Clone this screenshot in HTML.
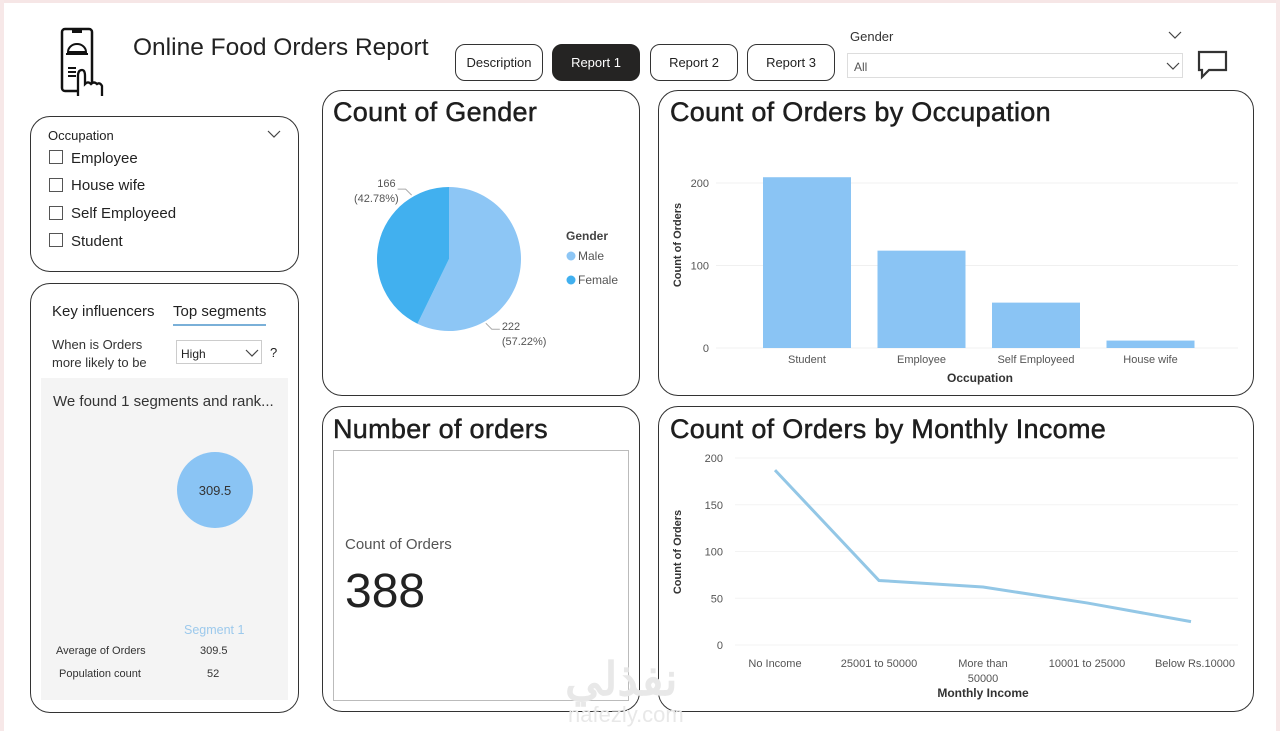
<!DOCTYPE html>
<html><head><meta charset="utf-8"><style>
*{box-sizing:border-box;margin:0;padding:0}
body{width:1280px;height:731px;background:#fff;font-family:"Liberation Sans",sans-serif;position:relative;overflow:hidden;color:#222}
.abs{position:absolute}
.panel{position:absolute;border:1.5px solid #333;border-radius:20px;background:#fff}
.btn{position:absolute;top:44px;height:37px;width:88px;border:1.5px solid #333;border-radius:10px;font-size:13px;display:flex;align-items:center;justify-content:center;background:#fff}
.title{position:absolute;font-size:27px;color:#1e1e1e;letter-spacing:0.3px;-webkit-text-stroke:0.5px #1e1e1e}
.cb{position:absolute;left:49px;width:14px;height:14px;border:1px solid #555}
.cbl{position:absolute;left:71px;font-size:15px}
svg text{font-family:"Liberation Sans",sans-serif}
</style></head><body>
<div class="abs" style="left:0;top:0;width:1280px;height:3px;background:#f6e6e6"></div>
<div class="abs" style="left:0;top:0;width:4px;height:731px;background:#f7e8e8"></div>
<div class="abs" style="right:0;top:0;width:4px;height:731px;background:#f7e8e8"></div>

<svg class="abs" style="left:58px;top:26px" width="56" height="72">
<rect x="4" y="3" width="30" height="62" rx="3" fill="none" stroke="#111" stroke-width="2.5"/>
<rect x="14" y="3" width="10" height="4" fill="#111"/>
<path d="M10 26 A9 8 0 0 1 28 26 Z M8 28 H30" fill="none" stroke="#111" stroke-width="2"/>
<path d="M10 42 H18 M10 46 H18 M10 50 H18" stroke="#111" stroke-width="2"/>
<path d="M20 70 V50 Q20 44 24 44 Q27 44 27 50 V58 Q30 55 33 58 Q36 55 39 58 Q42 56 44 60 V70" fill="#fff" stroke="#111" stroke-width="2.3"/>
</svg>
<div class="abs" style="left:133px;top:34px;font-size:24.5px;color:#222">Online Food Orders Report</div>

<div class="btn" style="left:455px">Description</div>
<div class="btn" style="left:552px;background:#252423;color:#fff;border-color:#252423">Report 1</div>
<div class="btn" style="left:650px">Report 2</div>
<div class="btn" style="left:747px">Report 3</div>

<div class="abs" style="left:850px;top:29px;font-size:13px;color:#333">Gender</div>
<svg class="abs" style="left:1168px;top:30px" width="14" height="10"><path d="M1 2 L7 8 L13 2" fill="none" stroke="#444" stroke-width="1.2"/></svg>
<div class="abs" style="left:847px;top:53px;width:336px;height:25px;border:1px solid #ddd;font-size:12px;color:#555;padding:6px 0 0 6px">All
<svg class="abs" style="left:318px;top:7px" width="14" height="10"><path d="M1 2 L7 8 L13 2" fill="none" stroke="#444" stroke-width="1.2"/></svg></div>
<svg class="abs" style="left:1197px;top:50px" width="32" height="30"><path d="M2 2 H29 V20 H12 L5 27 V20 H2 Z" fill="none" stroke="#333" stroke-width="2.2"/></svg>

<div class="panel" style="left:30px;top:116px;width:269px;height:156px">
<div class="abs" style="left:17px;top:11px;font-size:13px">Occupation</div>
<svg class="abs" style="left:236px;top:12px" width="14" height="10"><path d="M1 2 L7 8 L13 2" fill="none" stroke="#444" stroke-width="1.2"/></svg>
</div>
<div class="cb" style="top:150px"></div><div class="cbl" style="top:150px">Employee</div>
<div class="cb" style="top:178px"></div><div class="cbl" style="top:177px">House wife</div>
<div class="cb" style="top:206px"></div><div class="cbl" style="top:205px">Self Employeed</div>
<div class="cb" style="top:233px"></div><div class="cbl" style="top:233px">Student</div>

<div class="panel" style="left:30px;top:283px;width:269px;height:430px"></div>
<div class="abs" style="left:52px;top:303px;font-size:15px">Key influencers</div>
<div class="abs" style="left:173px;top:303px;font-size:15px;border-bottom:2px solid #7ab0d8;padding-bottom:4px">Top segments</div>
<div class="abs" style="left:52px;top:336px;font-size:13px;line-height:18px;color:#333">When is Orders<br>more likely to be</div>
<div class="abs" style="left:176px;top:340px;width:86px;height:24px;border:1px solid #ccc;font-size:12px;padding:6px 4px">High<svg class="abs" style="left:68px;top:7px" width="14" height="10"><path d="M1 2 L7 8 L13 2" fill="none" stroke="#444" stroke-width="1.2"/></svg></div>
<div class="abs" style="left:270px;top:345px;font-size:13px">?</div>
<div class="abs" style="left:41px;top:378px;width:247px;height:322px;background:#f4f4f4">
<div class="abs" style="left:12px;top:15px;font-size:15px;color:#333">We found 1 segments and rank...</div>
<div class="abs" style="left:136px;top:74px;width:76px;height:76px;border-radius:50%;background:#8ac4f4;font-size:13px;display:flex;align-items:center;justify-content:center;color:#333">309.5</div>
<div class="abs" style="left:143px;top:245px;font-size:12.5px;color:#9cc9ec">Segment 1</div>
<div class="abs" style="left:15px;top:267px;font-size:11px;color:#333">Average of Orders</div>
<div class="abs" style="left:159px;top:267px;font-size:11px;color:#333">309.5</div>
<div class="abs" style="left:18px;top:290px;font-size:11px;color:#333">Population count</div>
<div class="abs" style="left:166px;top:290px;font-size:11px;color:#333">52</div>
</div>

<div class="panel" style="left:322px;top:90px;width:318px;height:306px"></div>
<div class="title" style="left:333px;top:97px">Count of Gender</div>
<svg id="pie" class="abs" style="left:322px;top:90px" width="318" height="306"></svg>

<div class="panel" style="left:658px;top:90px;width:596px;height:306px"></div>
<div class="title" style="left:670px;top:97px">Count of Orders by Occupation</div>
<svg id="bar" class="abs" style="left:658px;top:90px" width="596" height="306"></svg>

<div class="panel" style="left:322px;top:406px;width:318px;height:306px"></div>
<div class="title" style="left:333px;top:414px">Number of orders</div>
<div class="abs" style="left:333px;top:450px;width:296px;height:251px;border:1px solid #bbb">
<div class="abs" style="left:11px;top:85px;font-size:15px;color:#555">Count of Orders</div>
<div class="abs" style="left:11px;top:113px;font-size:48px;color:#222">388</div>
</div>

<div class="panel" style="left:658px;top:406px;width:596px;height:306px"></div>
<div class="title" style="left:670px;top:414px">Count of Orders by Monthly Income</div>
<svg id="line" class="abs" style="left:0;top:0" width="1280" height="731"></svg>

<div class="abs" style="left:565px;top:652px;font-size:46px;color:#e8e8e8;font-weight:bold;font-family:'Liberation Sans','Noto Sans CJK SC',sans-serif">نفذلي</div>
<div class="abs" style="left:568px;top:702px;font-size:22px;color:#e8e8e8">nafezly.com</div>

<script>
const genderCats=["Male","Female"];
const genderVals=[222,166];
const occCats=["Student","Employee","Self Employeed","House wife"];
const occVals=[207,118,55,9];
const occTicks=[0,100,200];
const incCats=["No Income","25001 to 50000","More than\n50000","10001 to 25000","Below Rs.10000"];
const incVals=[187,69,62,45,25];
const incTicks=[0,50,100,150,200];
const NS="http://www.w3.org/2000/svg";
function mk(p,t,a,txt){const e=document.createElementNS(NS,t);for(const k in a)e.setAttribute(k,a[k]);if(txt!==undefined)e.textContent=txt;p.appendChild(e);return e;}

// pie
(function(){
const s=document.getElementById('pie');const cx=127,cy=169,r=72;
const tot=genderVals.reduce((a,b)=>a+b,0);const cols=["#8dc6f5","#41b0ef"];
// label placement angles (radians from east), layout only
const labAng=[1.05,-2.1];
let a0=-Math.PI/2;
genderVals.forEach((v,i)=>{const a1=a0+v/tot*2*Math.PI;
const x0=cx+r*Math.cos(a0),y0=cy+r*Math.sin(a0),x1=cx+r*Math.cos(a1),y1=cy+r*Math.sin(a1);
const p=mk(s,'path',{d:`M${cx} ${cy} L${x0} ${y0} A${r} ${r} 0 ${a1-a0>Math.PI?1:0} 1 ${x1} ${y1} Z`,fill:cols[i]});


const am=labAng[i];
const ex=cx+(r+2)*Math.cos(am),ey=cy+(r+2)*Math.sin(am);
const right=Math.cos(am)>0;
const lx=ex+(right?6:-6),ly=ey+(right?6:-6);
const pct=(v/tot*100).toFixed(2)+'%';
mk(s,'path',{d:`M${ex} ${ey} L${lx} ${ly} L${right?lx+8:lx-8} ${ly}`,stroke:'#aaa',fill:'none'});
const tx=right?lx+10:lx-10;
const t1=mk(s,'text',{x:right?tx:tx,y:ly+(right?1:-2),'font-size':11,fill:'#555','text-anchor':right?'start':'end'},v);


const t2=mk(s,'text',{x:right?tx:tx+3,y:ly+(right?16:13),'font-size':11,fill:'#555','text-anchor':right?'start':'end'},'('+pct+')');


a0=a1;});
mk(s,'text',{x:244,y:150,'font-size':12,'font-weight':'bold',fill:'#444'},'Gender');
genderCats.forEach((c,i)=>{mk(s,'circle',{cx:249,cy:166+i*24,r:4.5,fill:cols[i]});
const t=mk(s,'text',{x:256,y:170+i*24,'font-size':12,fill:'#555'},c);

});
})();

// bar
(function(){
const s=document.getElementById('bar');
const y0=258,k=0.825,x0=47,bw=88,step=114.5;
const y=v=>y0-v*k;
occTicks.forEach(t=>{mk(s,'text',{x:51,y:y(t)+4,'font-size':11,fill:'#555','text-anchor':'end'},t);
mk(s,'line',{x1:58,x2:580,y1:y(t),y2:y(t),stroke:'#f0f0f0'});});
occVals.forEach((v,i)=>{const r=mk(s,'rect',{x:x0+58+i*step,y:y(v),width:bw,height:v*k,fill:'#8ac4f4'});


mk(s,'text',{x:x0+58+i*step+bw/2,y:y0+15,'font-size':11,fill:'#555','text-anchor':'middle'},occCats[i]);});
mk(s,'text',{x:322,y:292,'font-size':12,'font-weight':'bold',fill:'#333','text-anchor':'middle'},'Occupation');
mk(s,'text',{x:0,y:0,'font-size':11,'font-weight':'bold',fill:'#333','text-anchor':'middle',transform:'translate(23,155) rotate(-90)'},'Count of Orders');
})();

// line
(function(){
const s=document.getElementById('line');
const y0=645,k=(645-458)/200,xs=775,step=104;
const y=v=>y0-v*k;const x=i=>xs+i*step;
incTicks.forEach(t=>{mk(s,'text',{x:723,y:y(t)+4,'font-size':11,fill:'#555','text-anchor':'end'},t);
mk(s,'line',{x1:735,x2:1238,y1:y(t),y2:y(t),stroke:'#f3f3f3'});});
const p=mk(s,'polyline',{points:incVals.map((v,i)=>x(i)+','+y(v)).join(' '),fill:'none',stroke:'#93c7e6','stroke-width':3});


incCats.forEach((c,i)=>{c.split('\n').forEach((ln,j)=>mk(s,'text',{x:x(i)+(i==4?4:0),y:667+j*15,'font-size':11,fill:'#555','text-anchor':'middle'},ln));});
mk(s,'text',{x:983,y:697,'font-size':12,'font-weight':'bold',fill:'#333','text-anchor':'middle'},'Monthly Income');
mk(s,'text',{x:0,y:0,'font-size':11,'font-weight':'bold',fill:'#333','text-anchor':'middle',transform:'translate(681,552) rotate(-90)'},'Count of Orders');
})();
</script>
</body></html>
